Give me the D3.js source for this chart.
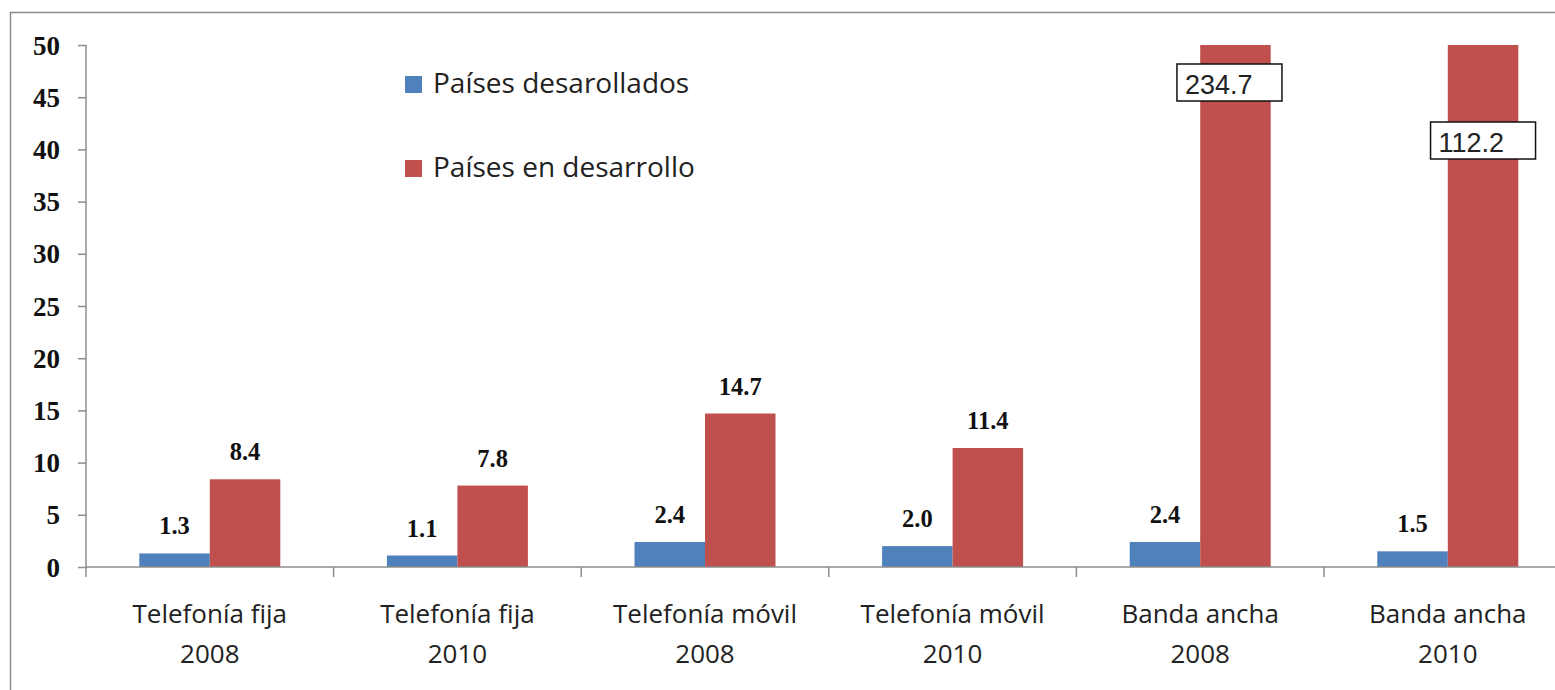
<!DOCTYPE html>
<html>
<head>
<meta charset="utf-8">
<script src="https://cdn.jsdelivr.net/npm/d3@7"></script>
<style>
html,body{margin:0;padding:0;background:#fff;overflow:hidden;}
</style>
</head>
<body>
<svg id="chart" width="1555" height="690"></svg>
<script>
const categories = [
  ["Telefonía fija","2008"],
  ["Telefonía fija","2010"],
  ["Telefonía móvil","2008"],
  ["Telefonía móvil","2010"],
  ["Banda ancha","2008"],
  ["Banda ancha","2010"]
];
const seriesNames = ["Países desarollados","Países en desarrollo"];
const desarrollados = [1.3, 1.1, 2.4, 2.0, 2.4, 1.5];
const enDesarrollo = [8.4, 7.8, 14.7, 11.4, 234.7, 112.2];
const yTicks = [0,5,10,15,20,25,30,35,40,45,50];
const colors = ["#4F81BD","#C0504D"];

(function(){
const svg = d3.select("#chart");
const W = 1555, H = 690;
const mLeft = 86, mTop = 45, mBottom = 567;
const catW = 247.6;

svg.append("rect").attr("width",W).attr("height",H).attr("fill","#fff");
// outer frame (cropped on right/bottom)
svg.append("rect").attr("x",10.5).attr("y",12.5).attr("width",1700).attr("height",900)
  .attr("fill","none").attr("stroke","#8c8c8c").attr("stroke-width",1.5);

const catKeys = categories.map((c,i)=>i);
const x = d3.scaleBand().domain(catKeys).range([mLeft, mLeft + catW*categories.length]).padding(0);
const xSub = d3.scaleBand().domain([0,1]).range([0,141]);
const y = d3.scaleLinear().domain([0,50]).range([mBottom, mTop]);

svg.append("defs").append("clipPath").attr("id","plotclip")
  .append("rect").attr("x",mLeft).attr("y",y(50)).attr("width",W).attr("height",y(0)-y(50));

const data = catKeys.map(i => [desarrollados[i], enDesarrollo[i]]);
const g = svg.append("g").attr("clip-path","url(#plotclip)");
catKeys.forEach(i => {
  const cx = x(i) + x.bandwidth()/2 - 70.5;
  data[i].forEach((v,s) => {
    g.append("rect")
      .attr("x", cx + xSub(s))
      .attr("width", xSub.bandwidth())
      .attr("y", y(Math.min(v,50)))
      .attr("height", y(0) - y(Math.min(v,50)))
      .attr("fill", colors[s]);
  });
});

// Y axis
const yAxis = svg.append("g").attr("transform",`translate(${mLeft},0)`)
  .call(d3.axisLeft(y).tickValues(yTicks).tickSize(8).tickPadding(18).tickFormat(d3.format("d")));
yAxis.select(".domain").attr("stroke","#8c8c8c").attr("stroke-width",1.5)
  .attr("d", `M0,${y(50)}V${y(0)+10}`);
yAxis.selectAll(".tick line").attr("stroke","#8c8c8c").attr("stroke-width",1.5);
yAxis.selectAll(".tick text").attr("font-family","'Liberation Serif', serif").attr("font-weight","bold")
  .attr("font-size","27px").attr("fill","#111").attr("dy","0.34em");

// X axis
const xAxis = svg.append("g").attr("transform",`translate(0,${mBottom})`);
xAxis.append("line").attr("x1",mLeft).attr("x2",W).attr("y1",0).attr("y2",0)
  .attr("stroke","#8c8c8c").attr("stroke-width",1.5);
catKeys.forEach(i => {
  const bx = x(i) + x.bandwidth();
  xAxis.append("line").attr("x1",bx).attr("x2",bx).attr("y1",0).attr("y2",10)
    .attr("stroke","#8c8c8c").attr("stroke-width",1.5);
  const t = xAxis.append("text").attr("text-anchor","middle")
    .attr("font-family","'Open Sans', sans-serif").attr("font-size","26px").attr("fill","#222");
  t.append("tspan").attr("x", x(i)+x.bandwidth()/2).attr("y",56).text(categories[i][0]);
  t.append("tspan").attr("x", x(i)+x.bandwidth()/2).attr("y",96).text(categories[i][1]);
});

// value labels
catKeys.forEach(i => {
  const cx = x(i) + x.bandwidth()/2 - 70.5;
  data[i].forEach((v,s) => {
    const bxc = cx + xSub(s) + xSub.bandwidth()/2;
    if (v <= 50) {
      svg.append("text").attr("x", bxc).attr("y", y(v) - 19)
        .attr("text-anchor","middle")
        .attr("font-family","'Liberation Serif', serif").attr("font-weight","bold")
        .attr("font-size","24.5px").attr("fill","#111").text(d3.format(".1f")(v));
    } else {
      // boxed label for clipped bars
      const off = (i === 4) ? {dx:-6, top:64} : {dx:0, top:122};
      const bw = 105, bh = 37;
      const bxl = bxc + off.dx - bw/2;
      svg.append("rect").attr("x",bxl).attr("y",off.top).attr("width",bw).attr("height",bh)
        .attr("fill","#fff").attr("stroke","#111").attr("stroke-width",1.5);
      svg.append("text").attr("x", bxl + 8).attr("y", off.top + 30)
        .attr("font-family","'Liberation Sans', Arial, sans-serif")
        .attr("font-size","27px").attr("fill","#222").text(d3.format(".1f")(v));
    }
  });
});

// legend
const leg = svg.append("g");
seriesNames.forEach((n,s) => {
  const ly = 76 + s*84;
  leg.append("rect").attr("x",405).attr("y",ly).attr("width",17).attr("height",17).attr("fill",colors[s]);
  leg.append("text").attr("x",433).attr("y",ly+17)
    .attr("font-family","'Open Sans', sans-serif").attr("font-size","28px").attr("fill","#222").text(n);
});
})();
</script>
</body>
</html>
